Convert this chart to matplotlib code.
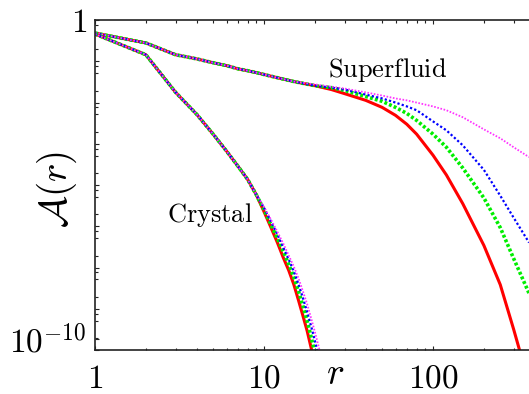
import numpy as np
import matplotlib
matplotlib.use("Agg")
import matplotlib.pyplot as plt
from matplotlib.ticker import FixedLocator, FuncFormatter, LogLocator, NullFormatter

plt.rcParams['mathtext.fontset'] = 'cm'
plt.rcParams['font.family'] = ['DejaVu Serif']

# Values, stored as log10 A(r)
# Superfluid: all four curves coincide at small r, then split
sf_r_head = [1, 2, 3, 4, 5, 6, 7, 8, 9, 10, 12, 15]
sf_head = [-0.41, -0.72, -1.09, -1.22, -1.34, -1.43, -1.53, -1.59, -1.65, -1.71, -1.81, -1.93]
sf_r_tail = [20, 25, 30, 40, 50, 60, 70, 80, 100, 120, 150, 200, 250, 300, 370]
sf_red = [-2.06, -2.18, -2.31, -2.52, -2.74, -2.99, -3.27, -3.58, -4.24, -4.86, -5.76, -7.07, -8.30, -9.70, -11.40]
sf_green = [-2.06, -2.12, -2.21, -2.40, -2.55, -2.74, -2.93, -3.15, -3.58, -3.99, -4.64, -5.58, -6.51, -7.48, -8.57]
sf_blue = [-2.06, -2.12, -2.18, -2.34, -2.46, -2.59, -2.71, -2.83, -3.18, -3.46, -3.93, -4.70, -5.51, -6.20, -6.98]
sf_magenta = [-2.02, -2.09, -2.15, -2.27, -2.37, -2.46, -2.52, -2.59, -2.71, -2.83, -3.05, -3.43, -3.71, -3.99, -4.30]

# Crystal
cr_r_head = [1, 2, 3, 4, 5, 6, 7, 8, 9]
cr_head = [-0.44, -1.09, -2.27, -2.96, -3.58, -4.11, -4.58, -5.00, -5.48]
cr_r_tail = [10, 11, 12, 13, 14, 15, 16, 17, 18, 19, 20, 21, 22, 23]
cr_red = [-6.01, -6.51, -6.98, -7.45, -7.85, -8.29, -8.79, -9.28, -9.75, -10.28, -10.78]
cr_green = [-5.95, -6.42, -6.85, -7.26, -7.66, -8.07, -8.51, -8.97, -9.44, -9.94, -10.44, -10.94]
cr_blue = [-5.89, -6.32, -6.73, -7.13, -7.51, -7.88, -8.29, -8.72, -9.16, -9.60, -10.06, -10.53, -11.00]
cr_magenta = [-5.86, -6.26, -6.64, -7.01, -7.38, -7.73, -8.10, -8.51, -8.91, -9.35, -9.78, -10.22, -10.65, -11.09]

STYLES = {
    'red': dict(color='#ff0000', lw=2.2, ls='-'),
    'green': dict(color='#00ee00', lw=2.6, dashes=(0.8, 0.6)),
    'blue': dict(color='#0000ff', lw=1.6, dashes=(1, 1)),
    'magenta': dict(color='#ff33ff', lw=1.3, dashes=(0.9, 0.9)),
}

sf_tails = {'red': sf_red, 'green': sf_green, 'blue': sf_blue, 'magenta': sf_magenta}
cr_tails = {'red': cr_red, 'green': cr_green, 'blue': cr_blue, 'magenta': cr_magenta}

W, H = 529, 394
fig = plt.figure(figsize=(W / 100, H / 100), dpi=100)
ax = fig.add_axes([95 / W, 44 / H, 434 / W, 330 / H])

for head_r, head, tail_r, tails in [(sf_r_head, sf_head, sf_r_tail, sf_tails),
                                    (cr_r_head, cr_head, cr_r_tail, cr_tails)]:
    for name in ['red', 'green', 'blue', 'magenta']:
        tail = tails[name]
        r = np.array(head_r + tail_r[:len(tail)], dtype=float)
        a = 10.0 ** np.array(head + tail)
        ax.plot(r, a, **STYLES[name])

ax.set_xscale('log')
ax.set_yscale('log')
ax.set_xlim(1, 10 ** (434 / 169))
y_low = -10.35
ax.set_ylim(10 ** y_low, 1)

# x ticks
ax.xaxis.set_major_locator(FixedLocator([1, 10, 100]))
ax.xaxis.set_minor_locator(LogLocator(base=10, subs=np.arange(2, 10), numticks=20))
ax.xaxis.set_minor_formatter(NullFormatter())
ax.set_xticklabels([r'$1$', r'$10$', r'$100$'])

# y ticks: Mathematica-like frame ticks, labels only at 1 and 1e-10
P = -y_low / 8
y_major = [10 ** (-k * P) for k in range(9)] + [1e-10]
y_minor = [10 ** (-(k + 1) * P + f * P) for k in range(8) for f in (0.29, 0.71, 0.88)]
ax.yaxis.set_major_locator(FixedLocator(y_major))
ax.yaxis.set_minor_locator(FixedLocator(y_minor))
ax.yaxis.set_minor_formatter(NullFormatter())


def ylab(v, pos):
    if abs(np.log10(v)) < 1e-6:
        return r'$1$'
    if abs(np.log10(v) + 10) < 1e-6:
        return r'$10^{-10}$'
    return ''


ax.yaxis.set_major_formatter(FuncFormatter(ylab))

ax.tick_params(axis='both', which='both', direction='in', top=True, right=False,
               width=0.8, color='#222222')
ax.tick_params(axis='both', which='major', length=3.2, labelsize=24)
ax.tick_params(axis='both', which='minor', length=1.8)
ax.tick_params(axis='x', which='major', pad=9)
ax.tick_params(axis='y', which='major', pad=6)

for side in ['left', 'bottom', 'top']:
    ax.spines[side].set_linewidth(1.2)
    ax.spines[side].set_color('#222222')
ax.spines['right'].set_visible(False)

# axis labels
ax.text((335 - 95) / 434, (350 - 392) / 330, r'$r$', transform=ax.transAxes,
        ha='center', va='bottom', fontsize=27, clip_on=False)
ax.text((57 - 95) / 434, (350 - 190) / 330, r'$\mathcal{A}(r)$', transform=ax.transAxes,
        ha='center', va='center', rotation=90, fontsize=28, clip_on=False)

# phase annotations
ax.text(10 ** ((388 - 95) / 169), 10 ** (-(70 - 20) / 31.9), r'$\mathrm{Superfluid}$',
        ha='center', va='center', fontsize=19)
ax.text(10 ** ((210 - 95) / 169), 10 ** (-(215 - 20) / 31.9), r'$\mathrm{Crystal}$',
        ha='center', va='center', fontsize=19)

fig.savefig('out.png', dpi=100)
